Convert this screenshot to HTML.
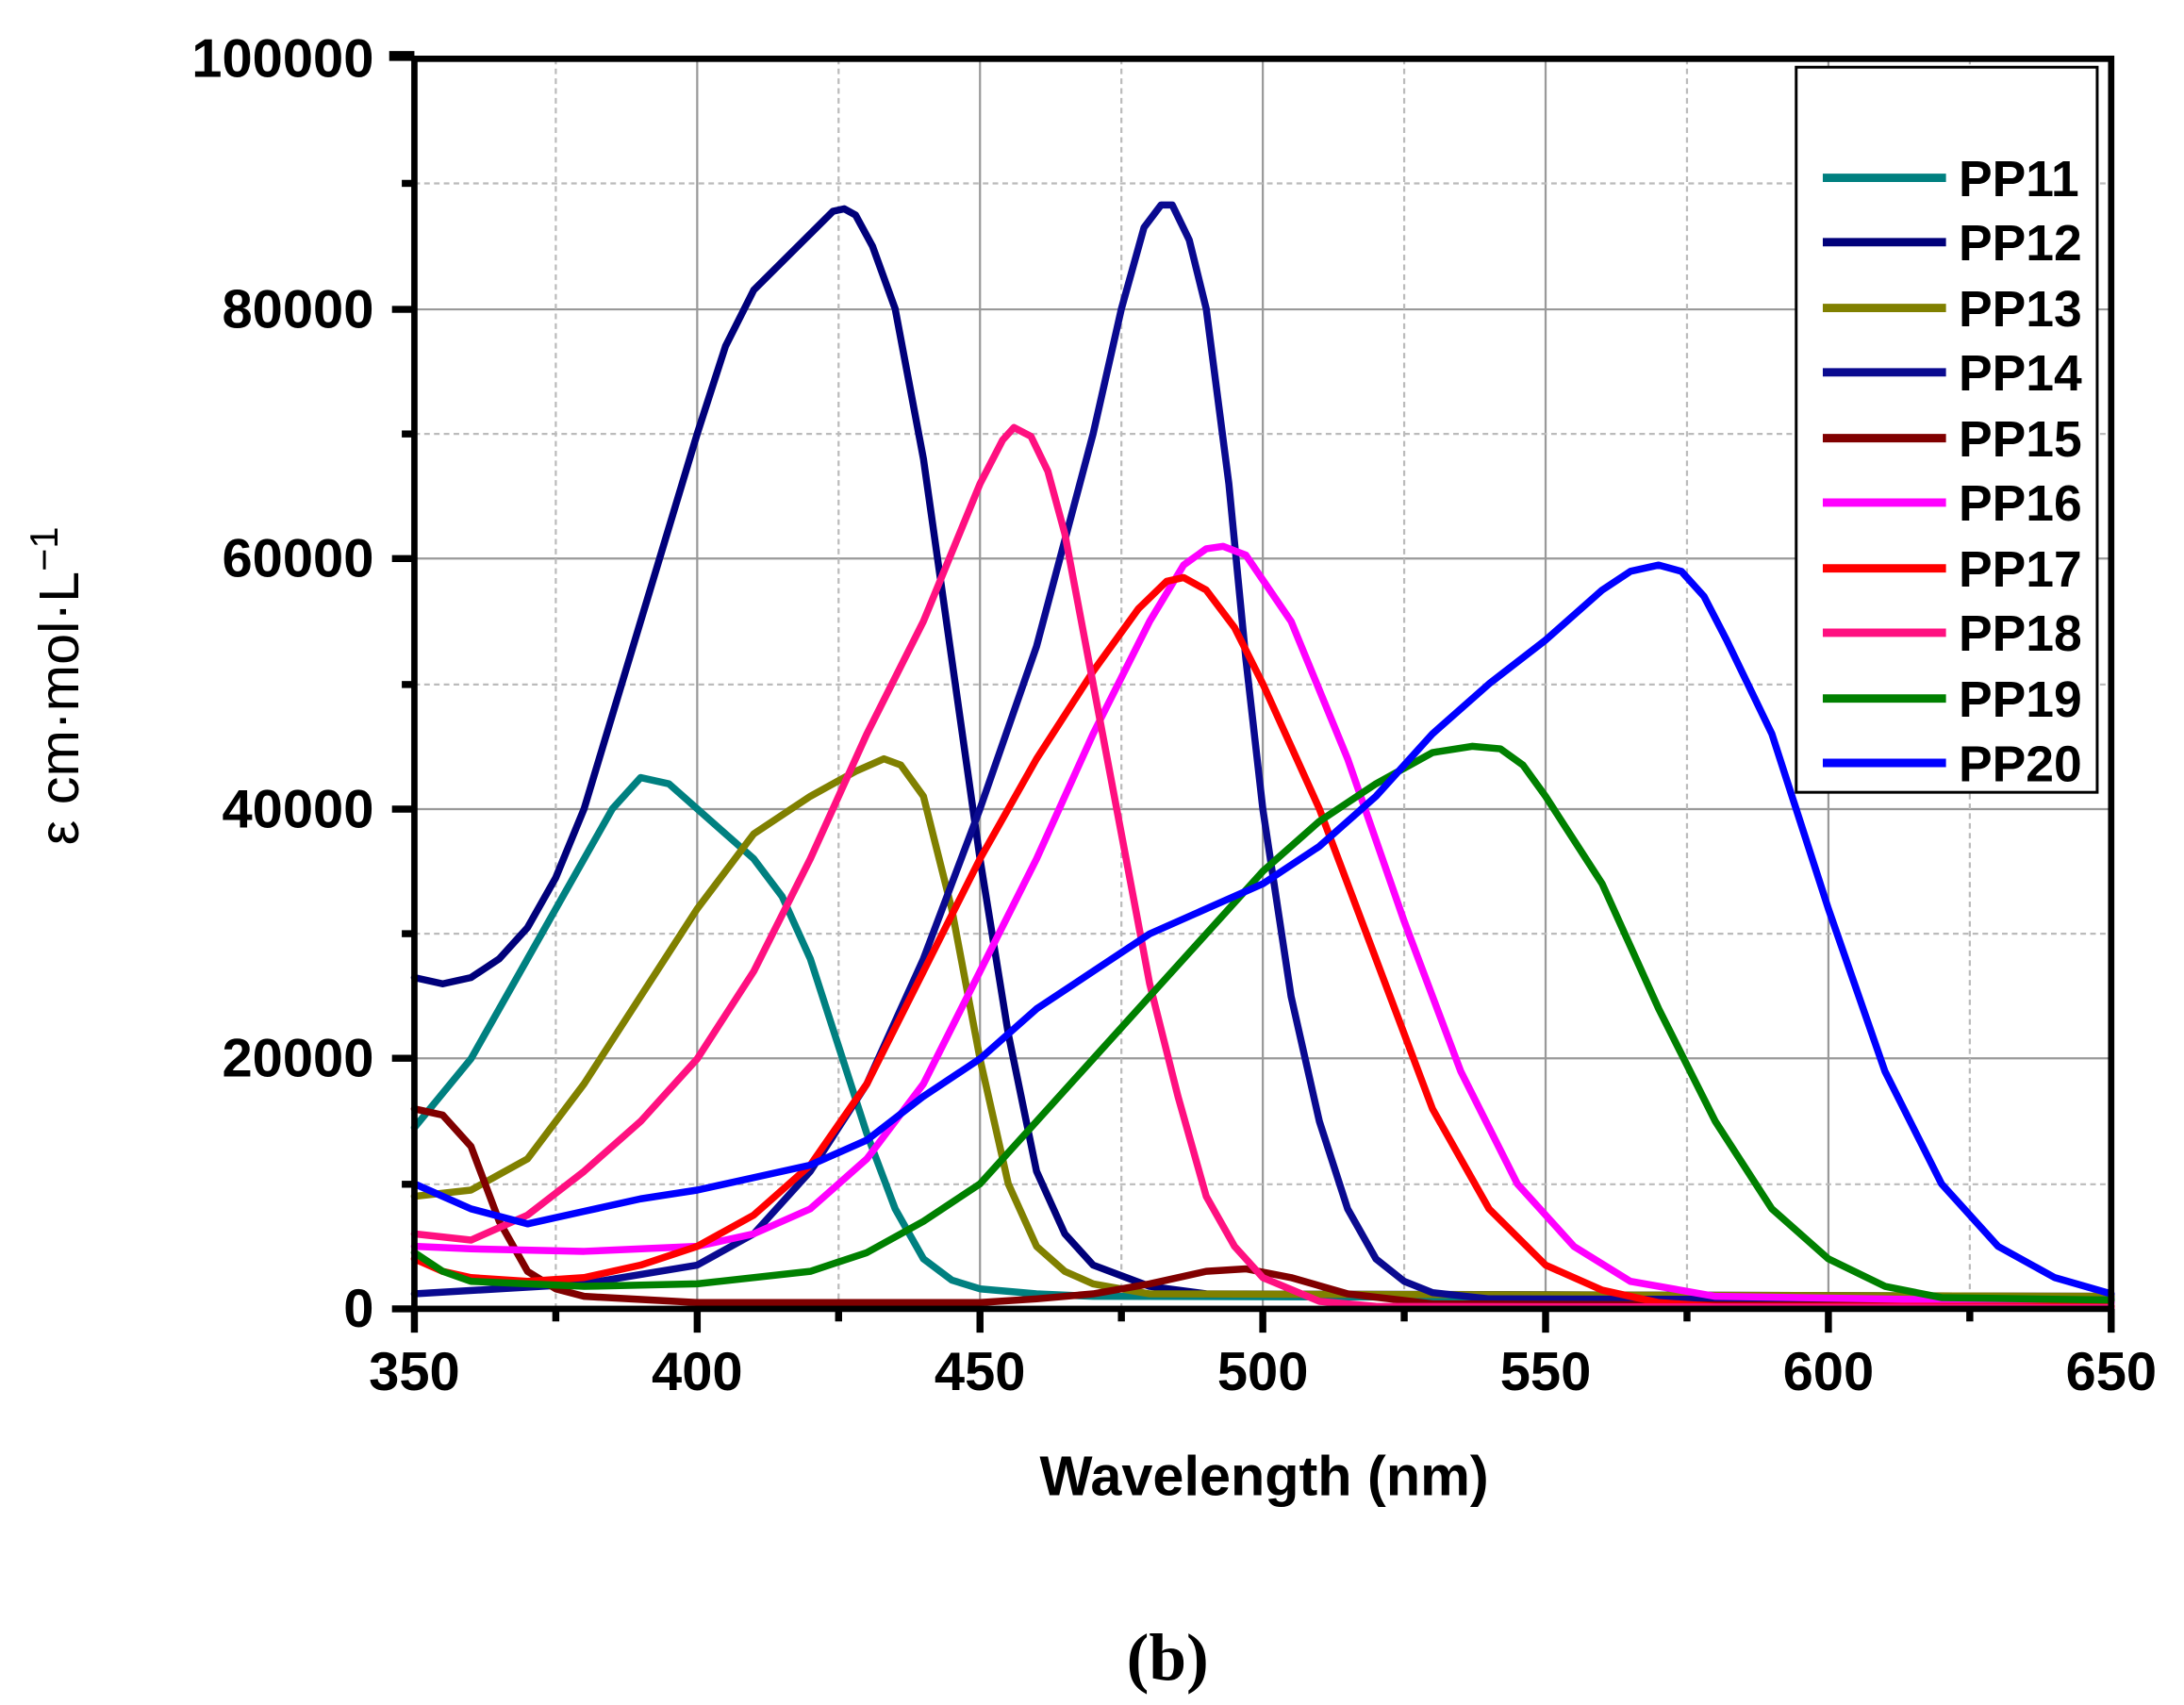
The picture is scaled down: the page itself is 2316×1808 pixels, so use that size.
<!DOCTYPE html>
<html><head><meta charset="utf-8"><style>
html,body{margin:0;padding:0;background:#fff;}
svg{display:block;}
text{font-family:"Liberation Sans",Arial,sans-serif;font-weight:bold;}
</style></head><body>
<svg width="2316" height="1808" viewBox="0 0 1560 1218" preserveAspectRatio="none" xmlns="http://www.w3.org/2000/svg">
<rect width="1560" height="1218" fill="#fff"/>
<g stroke="#999" stroke-width="1.5">
<line x1="498" y1="42" x2="498" y2="935"/><line x1="700" y1="42" x2="700" y2="935"/><line x1="902" y1="42" x2="902" y2="935"/><line x1="1104" y1="42" x2="1104" y2="935"/><line x1="1306" y1="42" x2="1306" y2="935"/>
<line x1="296" y1="221" x2="1508" y2="221"/><line x1="296" y1="399" x2="1508" y2="399"/><line x1="296" y1="578" x2="1508" y2="578"/><line x1="296" y1="756" x2="1508" y2="756"/>
</g>
<g stroke="#bbb" stroke-width="1.5" stroke-dasharray="4,3">
<line x1="397" y1="42" x2="397" y2="935"/><line x1="599" y1="42" x2="599" y2="935"/><line x1="801" y1="42" x2="801" y2="935"/><line x1="1003" y1="42" x2="1003" y2="935"/><line x1="1205" y1="42" x2="1205" y2="935"/><line x1="1407" y1="42" x2="1407" y2="935"/>
<line x1="296" y1="131" x2="1508" y2="131"/><line x1="296" y1="310" x2="1508" y2="310"/><line x1="296" y1="489" x2="1508" y2="489"/><line x1="296" y1="667" x2="1508" y2="667"/><line x1="296" y1="846" x2="1508" y2="846"/>
</g>
<g transform="translate(296,935) scale(4.04,-0.00893) translate(-350,0)" fill="none" stroke-width="7.5" stroke-linejoin="round" stroke-linecap="round">
<polyline vector-effect="non-scaling-stroke" stroke="#008080" points="350,14500 360,20000 370,28000 380,36000 385,40000 390,42500 395,42000 400,40000 410,36000 415,33000 420,28000 425,21000 430,14000 435,8000 440,4000 445,2300 450,1600 460,1200 470,1000 650,800"/>
<polyline vector-effect="non-scaling-stroke" stroke="#00007a" points="350,26500 355,26000 360,26500 365,28000 370,30500 375,34500 380,40000 390,55000 400,70000 405,77000 410,81500 420,86000 424,87800 426,88000 428,87500 431,85000 435,80000 440,68000 445,52000 450,36000 455,22000 460,11000 465,6000 470,3500 480,1800 490,1200 650,1000"/>
<polyline vector-effect="non-scaling-stroke" stroke="#808000" points="350,9000 360,9500 370,12000 380,18000 390,25000 400,32000 410,38000 420,41000 428,43000 433,44000 436,43500 440,41000 445,32000 450,20000 455,10000 460,5000 465,3000 470,2000 480,1200 650,1000"/>
<polyline vector-effect="non-scaling-stroke" stroke="#0a0a90" points="350,1200 380,2000 400,3500 410,6000 420,11000 430,18000 440,28000 450,40000 460,53000 470,70000 475,80000 479,86500 482,88300 484,88300 487,85500 490,80000 494,66000 497,52000 500,40000 505,25000 510,15000 515,8000 520,4000 525,2200 530,1300 540,800 650,700"/>
<polyline vector-effect="non-scaling-stroke" stroke="#800000" points="350,16000 355,15500 360,13000 365,7000 370,3000 375,1600 380,1000 400,500 450,500 460,800 470,1200 480,2000 490,3000 497,3200 505,2500 515,1200 530,400 650,200"/>
<polyline vector-effect="non-scaling-stroke" stroke="#ff00ff" points="350,5000 360,4800 380,4600 400,5000 410,6000 420,8000 430,12000 440,18000 450,27000 460,36000 470,46000 480,55000 486,59500 490,60800 493,61000 497,60300 505,55000 515,44000 525,31000 535,19000 545,10000 555,5000 565,2200 580,1000 650,500"/>
<polyline vector-effect="non-scaling-stroke" stroke="#ff0000" points="350,4000 355,3000 360,2500 370,2200 380,2500 390,3500 400,5000 410,7500 420,11500 430,18000 440,27000 450,36000 460,44000 470,51000 478,56000 483,58200 486,58500 490,57500 495,54500 500,50000 510,40000 520,28000 530,16000 540,8000 550,3500 560,1500 570,500 580,200 650,200"/>
<polyline vector-effect="non-scaling-stroke" stroke="#ff1080" points="350,6000 360,5500 370,7500 380,11000 390,15000 400,20000 410,27000 420,36000 430,46000 440,55000 450,66000 454,69500 456,70500 459,69800 462,67000 465,62000 470,50000 475,38000 480,26000 485,17000 490,9000 495,5000 500,2500 510,600 520,200 650,100"/>
<polyline vector-effect="non-scaling-stroke" stroke="#008000" points="350,4500 355,3000 360,2200 380,1800 400,2000 420,3000 430,4500 440,7000 450,10000 460,15000 470,20000 480,25000 490,30000 500,35000 510,39000 520,42000 530,44500 537,45000 542,44800 546,43500 550,41000 560,34000 570,24000 580,15000 590,8000 600,4000 610,1800 620,900 650,700"/>
<polyline vector-effect="non-scaling-stroke" stroke="#0000ff" points="350,10000 360,8000 370,6800 380,7800 390,8800 400,9500 410,10500 420,11500 430,13500 440,17000 450,20000 460,24000 470,27000 480,30000 490,32000 500,34000 510,37000 520,41000 530,46000 540,50000 550,53500 560,57500 565,59000 570,59500 574,59000 578,57000 582,53500 590,46000 600,32000 610,19000 620,10000 630,5000 640,2500 650,1200"/>
</g>
<rect x="296" y="42" width="1212" height="893" fill="none" stroke="#000" stroke-width="4.5"/>
<line x1="278" y1="40" x2="296" y2="40" stroke="#000" stroke-width="7"/>
<g stroke="#000" stroke-width="5">
<line x1="280" y1="221" x2="296" y2="221"/><line x1="280" y1="399" x2="296" y2="399"/><line x1="280" y1="578" x2="296" y2="578"/><line x1="280" y1="756" x2="296" y2="756"/><line x1="280" y1="935" x2="296" y2="935"/>
<line x1="287" y1="131" x2="296" y2="131"/><line x1="287" y1="310" x2="296" y2="310"/><line x1="287" y1="489" x2="296" y2="489"/><line x1="287" y1="667" x2="296" y2="667"/><line x1="287" y1="846" x2="296" y2="846"/>
<line x1="296" y1="935" x2="296" y2="952"/><line x1="498" y1="935" x2="498" y2="952"/><line x1="700" y1="935" x2="700" y2="952"/><line x1="902" y1="935" x2="902" y2="952"/><line x1="1104" y1="935" x2="1104" y2="952"/><line x1="1306" y1="935" x2="1306" y2="952"/><line x1="1508" y1="935" x2="1508" y2="952"/>
<line x1="397" y1="935" x2="397" y2="944"/><line x1="599" y1="935" x2="599" y2="944"/><line x1="801" y1="935" x2="801" y2="944"/><line x1="1003" y1="935" x2="1003" y2="944"/><line x1="1205" y1="935" x2="1205" y2="944"/><line x1="1407" y1="935" x2="1407" y2="944"/>
</g>
<g font-size="39" text-anchor="end">
<text x="267" y="55">100000</text><text x="267" y="234">80000</text><text x="267" y="412">60000</text><text x="267" y="591">40000</text><text x="267" y="769">20000</text><text x="267" y="948">0</text>
</g>
<g font-size="39" text-anchor="middle">
<text x="296" y="993">350</text><text x="498" y="993">400</text><text x="700" y="993">450</text><text x="902" y="993">500</text><text x="1104" y="993">550</text><text x="1306" y="993">600</text><text x="1508" y="993">650</text>
</g>
<text x="903" y="1068" font-size="40" text-anchor="middle">Wavelength (nm)</text>
<text transform="translate(56,490) rotate(-90)" font-size="40" text-anchor="middle" style="font-weight:normal">ε  cm·mol·L<tspan dy="-15" font-size="28">−1</tspan></text>
<text x="834" y="1200" font-size="48" text-anchor="middle" style="font-family:'Liberation Serif',serif">(b)</text>
<rect x="1283" y="48" width="215" height="518" fill="#fff" stroke="#000" stroke-width="2"/>
<g stroke-width="6">
<line x1="1302" y1="127" x2="1390" y2="127" stroke="#008080"/>
<line x1="1302" y1="173" x2="1390" y2="173" stroke="#00007a"/>
<line x1="1302" y1="220" x2="1390" y2="220" stroke="#808000"/>
<line x1="1302" y1="266" x2="1390" y2="266" stroke="#0a0a90"/>
<line x1="1302" y1="313" x2="1390" y2="313" stroke="#800000"/>
<line x1="1302" y1="359" x2="1390" y2="359" stroke="#ff00ff"/>
<line x1="1302" y1="406" x2="1390" y2="406" stroke="#ff0000"/>
<line x1="1302" y1="452" x2="1390" y2="452" stroke="#ff1080"/>
<line x1="1302" y1="499" x2="1390" y2="499" stroke="#008000"/>
<line x1="1302" y1="545" x2="1390" y2="545" stroke="#0000ff"/>
</g>
<g font-size="36">
<text x="1399" y="140">PP11</text><text x="1399" y="186">PP12</text><text x="1399" y="233">PP13</text><text x="1399" y="279">PP14</text><text x="1399" y="326">PP15</text><text x="1399" y="372">PP16</text><text x="1399" y="419">PP17</text><text x="1399" y="465">PP18</text><text x="1399" y="512">PP19</text><text x="1399" y="558">PP20</text>
</g>
</svg>
</body></html>
